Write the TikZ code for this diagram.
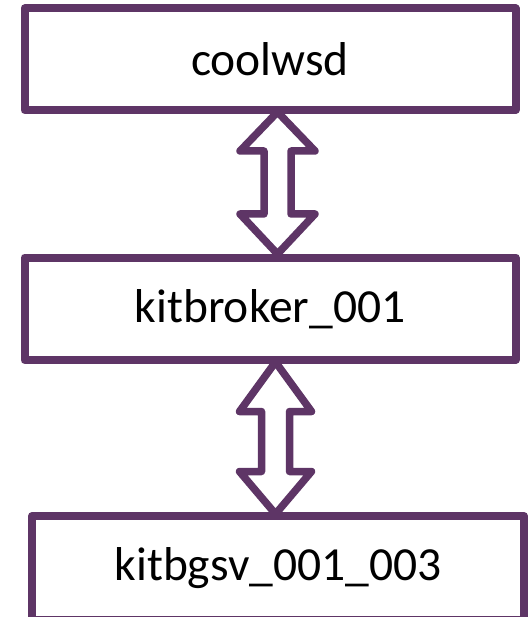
\documentclass[tikz,border=0pt]{standalone}
\usepackage{fontspec}
\setmainfont{Carlito}
\usetikzlibrary{calc}
\definecolor{kpurple}{RGB}{94,53,102}
\begin{document}
\begin{tikzpicture}[x=1pt,y=-1pt,
  procbox/.style={draw=kpurple,line width=8pt,line join=round,fill=white,
    inner sep=0pt,outer sep=0pt,font=\fontsize{47.5}{52}\selectfont},
  dblarrow/.style={draw=kpurple,line width=7.5pt,line join=round,fill=white}]
\useasboundingbox (0,0) rectangle (527,617);
\node[procbox,minimum width=491pt,minimum height=101.5pt] (b1) at (270,59.25) {coolwsd};
\node[procbox,minimum width=491pt,minimum height=102.5pt] (b2) at (270,308.75) {kitbroker\_001};
\node[procbox,minimum width=492pt,minimum height=104pt] (b3) at (278,568) {kitbgsv\_001\_003};
% arrow between b1 and b2
\draw[dblarrow] ($(b1.south)+(7.5,2)$) -- ($(b1.south)+(45,41)$) -- ($(b1.south)+(21,41)$)
  -- ($(b2.north)+(21,-43.5)$) -- ($(b2.north)+(45,-43.5)$) -- ($(b2.north)+(7.5,-3.5)$)
  -- ($(b2.north)+(-30,-43.5)$) -- ($(b2.north)+(-6,-43.5)$) -- ($(b1.south)+(-6,41)$)
  -- ($(b1.south)+(-30,41)$) -- cycle;
% arrow between b2 and b3
\draw[dblarrow] ($(b2.south)+(5.5,2)$) -- ($(b2.south)+(41.5,51.5)$) -- ($(b2.south)+(19.5,51.5)$)
  -- ($(b3.north)+(11.5,-44.5)$) -- ($(b3.north)+(33.5,-44.5)$) -- ($(b3.north)+(-2.5,-2)$)
  -- ($(b3.north)+(-38.5,-44.5)$) -- ($(b3.north)+(-16.5,-44.5)$) -- ($(b2.south)+(-8.5,51.5)$)
  -- ($(b2.south)+(-30.5,51.5)$) -- cycle;
\end{tikzpicture}
\end{document}
